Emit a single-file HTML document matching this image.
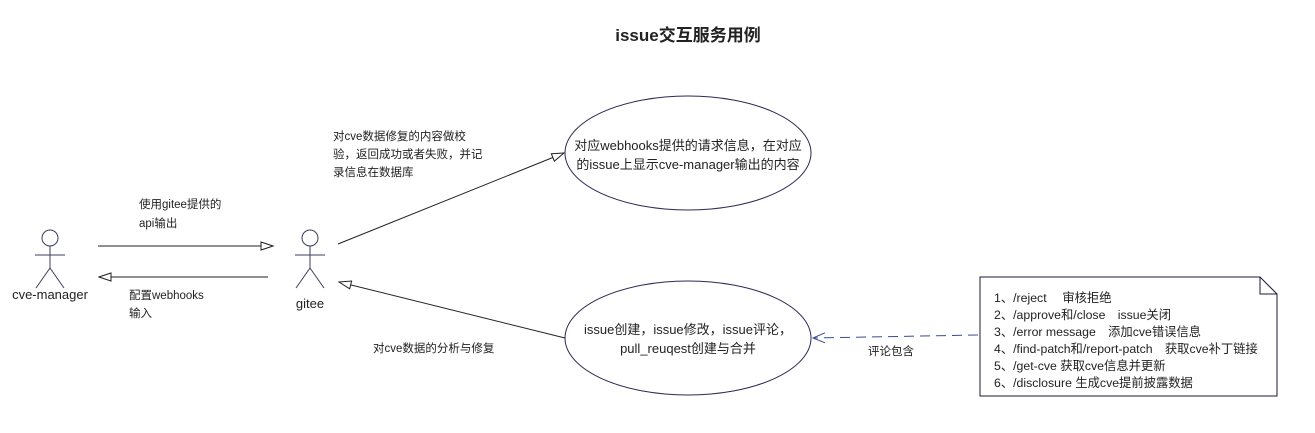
<!DOCTYPE html>
<html><head><meta charset="utf-8"><style>
html,body{margin:0;padding:0;background:#fff;}
svg text{font-family:"Liberation Sans","Noto Sans CJK SC",sans-serif;fill:#222;}
</style></head><body>
<svg width="1315" height="428" viewBox="0 0 1315 428" xmlns="http://www.w3.org/2000/svg">
<defs>
<marker id="oa" markerWidth="14" markerHeight="10" refX="13" refY="5" orient="auto" markerUnits="userSpaceOnUse">
<path d="M1,1 L13,5 L1,9 Z" fill="#fff" stroke="#222" stroke-width="1"/></marker>
<marker id="va" markerWidth="14" markerHeight="12" refX="13" refY="6" orient="auto" markerUnits="userSpaceOnUse">
<path d="M1,1 L13,6 L1,11" fill="none" stroke="#3a4a9a" stroke-width="1"/></marker>
</defs>
<text x="688" y="41" font-size="17" font-weight="bold" text-anchor="middle">issue交互服务用例</text>
<g stroke="#3c3c5a" stroke-width="1" fill="#fff">
<circle cx="50" cy="238" r="8"/>
<line x1="50" y1="246" x2="50" y2="268"/>
<line x1="35" y1="255" x2="65" y2="255"/>
<line x1="50" y1="268" x2="36" y2="288"/>
<line x1="50" y1="268" x2="64" y2="288"/>
<circle cx="310" cy="238" r="8"/>
<line x1="310" y1="246" x2="310" y2="268"/>
<line x1="295" y1="255" x2="325" y2="255"/>
<line x1="310" y1="268" x2="296" y2="288"/>
<line x1="310" y1="268" x2="324" y2="288"/>
</g>
<text x="50" y="299" font-size="13" text-anchor="middle">cve-manager</text>
<text x="310" y="308" font-size="13" text-anchor="middle">gitee</text>
<ellipse cx="688" cy="153" rx="123" ry="57" fill="#fff" stroke="#2a2a55" stroke-width="1"/>
<ellipse cx="688" cy="338" rx="123" ry="57" fill="#fff" stroke="#2a2a55" stroke-width="1"/>
<g stroke="#222" stroke-width="1" fill="none">
<line x1="98" y1="246" x2="273" y2="246" marker-end="url(#oa)"/>
<line x1="268" y1="277" x2="99" y2="277" marker-end="url(#oa)"/>
<line x1="338" y1="244" x2="564" y2="153" marker-end="url(#oa)"/>
<line x1="565" y1="338" x2="339" y2="282" marker-end="url(#oa)"/>
</g>
<line x1="978" y1="335" x2="813" y2="338" stroke="#3a4a9a" stroke-width="1" stroke-dasharray="10,6" marker-end="url(#va)"/>
<g font-size="11.5">
<text x="139" y="208">使用gitee提供的</text>
<text x="139" y="227">api输出</text>
<text x="129" y="299">配置webhooks</text>
<text x="129" y="317">输入</text>
<text x="333" y="140">对cve数据修复的内容做校</text>
<text x="333" y="158">验，返回成功或者失败，并记</text>
<text x="333" y="176">录信息在数据库</text>
<text x="373" y="352">对cve数据的分析与修复</text>
<text x="868" y="355">评论包含</text>
</g>
<g font-size="13" text-anchor="middle">
<text x="688" y="150">对应webhooks提供的请求信息，在对应</text>
<text x="688" y="169">的issue上显示cve-manager输出的内容</text>
<text x="688" y="334">issue创建，issue修改，issue评论，</text>
<text x="688" y="353">pull_reuqest创建与合并</text>
</g>
<path d="M980,277 L1260,277 L1277,294 L1277,396 L980,396 Z" fill="#fff" stroke="#1a1a3a" stroke-width="1"/>
<path d="M1260,277 L1260,294 L1277,294" fill="none" stroke="#1a1a3a" stroke-width="1"/>
<g font-size="12.3">
<text x="994" y="302">1、/reject　 审核拒绝</text>
<text x="994" y="319">2、/approve和/close　issue关闭</text>
<text x="994" y="336">3、/error message　添加cve错误信息</text>
<text x="994" y="353">4、/find-patch和/report-patch　获取cve补丁链接</text>
<text x="994" y="370">5、/get-cve  获取cve信息并更新</text>
<text x="994" y="387">6、/disclosure  生成cve提前披露数据</text>
</g>
</svg>
</body></html>
